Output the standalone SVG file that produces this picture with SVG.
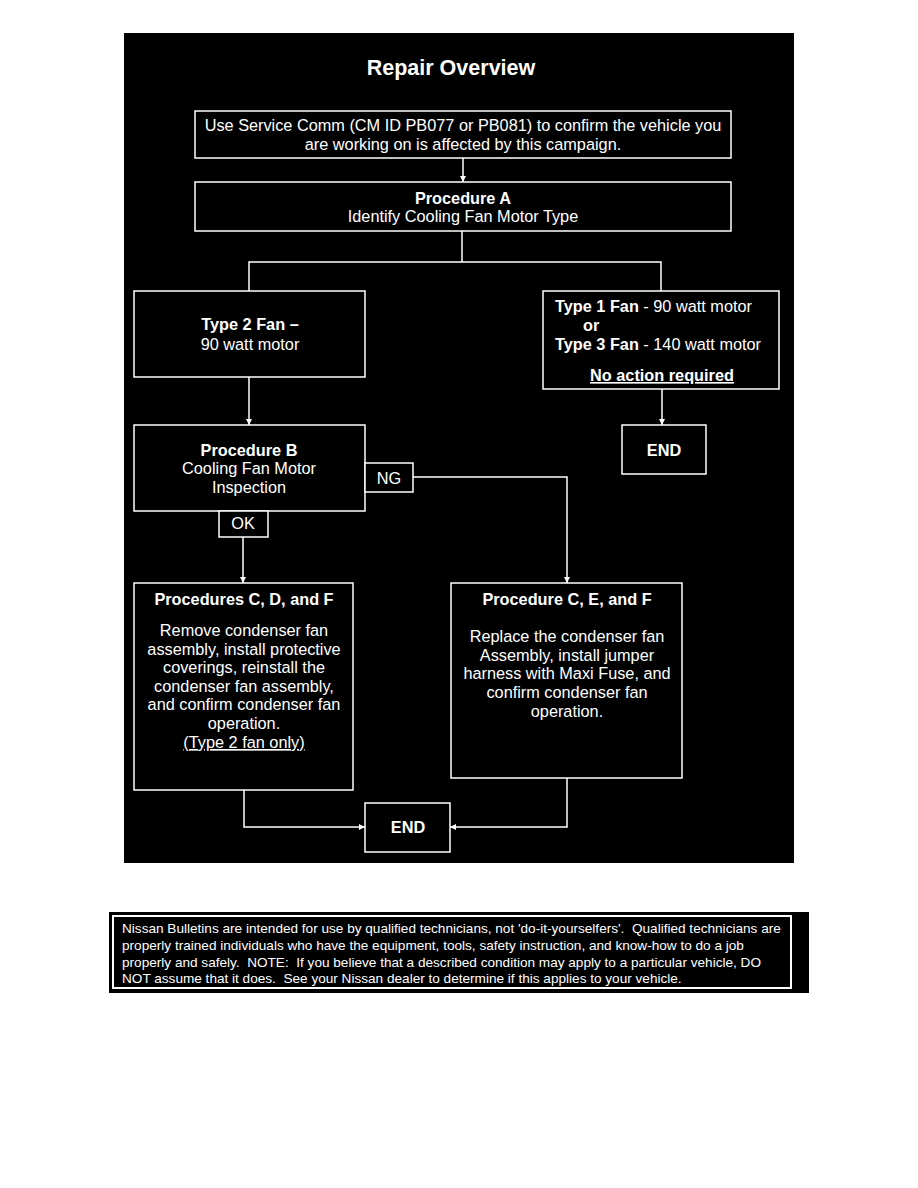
<svg xmlns="http://www.w3.org/2000/svg" width="918" height="1188" viewBox="0 0 918 1188">
<style>
text{font-family:"Liberation Sans",Arial,sans-serif;fill:#fff;font-size:16.3px}
.b{font-weight:bold}
.c{text-anchor:middle}
.box{fill:#000;stroke:#fff;stroke-width:1.5}
.ln{fill:none;stroke:#fff;stroke-width:1.5}
.u{text-decoration:underline}
.ft{font-size:13.6px}
</style>
<defs>
<marker id="ah" viewBox="0 0 10 10" refX="10" refY="5" markerWidth="6" markerHeight="6" markerUnits="userSpaceOnUse" orient="auto">
<path d="M0,0 L10,5 L0,10 z" fill="#fff"/>
</marker>
</defs>
<rect x="0" y="0" width="918" height="1188" fill="#fff"/>
<rect x="124" y="33" width="670" height="830" fill="#000"/>
<text class="b c" x="451" y="75" style="font-size:21.5px">Repair Overview</text>

<g id="connectors">
<line class="ln" x1="463" y1="158" x2="463" y2="182" marker-end="url(#ah)"/>
<polyline class="ln" points="462,231 462,262"/>
<polyline class="ln" points="249,291 249,262 661,262 661,291"/>
<line class="ln" x1="662" y1="389" x2="662" y2="425" marker-end="url(#ah)"/>
<line class="ln" x1="249" y1="377" x2="249" y2="425" marker-end="url(#ah)"/>
<polyline class="ln" points="413,477 567,477 567,583" marker-end="url(#ah)"/>
<line class="ln" x1="243" y1="537" x2="243" y2="583" marker-end="url(#ah)"/>
<polyline class="ln" points="244,790 244,827 365,827" marker-end="url(#ah)"/>
<polyline class="ln" points="567,778 567,827 450,827" marker-end="url(#ah)"/>
</g>

<g id="n1">
<rect class="box" x="195" y="111" width="536" height="47"/>
<text class="c" x="463" y="131">Use Service Comm (CM ID PB077 or PB081) to confirm the vehicle you</text>
<text class="c" x="463" y="150">are working on is affected by this campaign.</text>
</g>
<g id="procA">
<rect class="box" x="195" y="182" width="536" height="49"/>
<text class="b c" x="463" y="204">Procedure A</text>
<text class="c" x="463" y="222">Identify Cooling Fan Motor Type</text>
</g>
<g id="type2">
<rect class="box" x="134" y="291" width="231" height="86"/>
<text class="b c" x="250" y="330">Type 2 Fan –</text>
<text class="c" x="250" y="350">90 watt motor</text>
</g>
<g id="type13">
<rect class="box" x="543" y="291" width="236" height="98"/>
<text x="555" y="312"><tspan class="b">Type 1 Fan</tspan> - 90 watt motor</text>
<text class="b" x="583" y="331">or</text>
<text x="555" y="350"><tspan class="b">Type 3 Fan</tspan> - 140 watt motor</text>
<text class="b c u" x="662" y="381">No action required</text>
</g>
<g id="end1">
<rect class="box" x="622" y="425" width="84" height="49"/>
<text class="b c" x="664" y="456">END</text>
</g>
<g id="procB">
<rect class="box" x="134" y="425" width="231" height="86"/>
<text class="b c" x="249" y="456">Procedure B</text>
<text class="c" x="249" y="474">Cooling Fan Motor</text>
<text class="c" x="249" y="493">Inspection</text>
</g>
<g id="ng">
<rect class="box" x="365" y="463" width="48" height="29"/>
<text class="c" x="389" y="484">NG</text>
</g>
<g id="ok">
<rect class="box" x="219" y="511" width="49" height="26"/>
<text class="c" x="243" y="529">OK</text>
</g>
<g id="procCDF">
<rect class="box" x="134" y="583" width="219" height="207"/>
<text class="b c" x="244" y="605">Procedures C, D, and F</text>
<text class="c" x="244" y="636">Remove condenser fan</text>
<text class="c" x="244" y="655">assembly, install protective</text>
<text class="c" x="244" y="673">coverings, reinstall the</text>
<text class="c" x="244" y="692">condenser fan assembly,</text>
<text class="c" x="244" y="710">and confirm condenser fan</text>
<text class="c" x="244" y="729">operation.</text>
<text class="c u" x="244" y="748">(Type 2 fan only)</text>
</g>
<g id="procCEF">
<rect class="box" x="451" y="583" width="231" height="195"/>
<text class="b c" x="567" y="605">Procedure C, E, and F</text>
<text class="c" x="567" y="642">Replace the condenser fan</text>
<text class="c" x="567" y="661">Assembly, install jumper</text>
<text class="c" x="567" y="679">harness with Maxi Fuse, and</text>
<text class="c" x="567" y="698">confirm condenser fan</text>
<text class="c" x="567" y="717">operation.</text>
</g>
<g id="end2">
<rect class="box" x="365" y="803" width="85" height="49"/>
<text class="b c" x="408" y="833">END</text>
</g>

<g id="footer">
<rect x="109" y="912" width="700" height="81" fill="#000"/>
<rect x="113" y="916" width="678" height="72" fill="none" stroke="#fff" stroke-width="2"/>
<text class="ft" x="122" y="933" xml:space="preserve">Nissan Bulletins are intended for use by qualified technicians, not 'do-it-yourselfers'.  Qualified technicians are</text>
<text class="ft" x="122" y="950">properly trained individuals who have the equipment, tools, safety instruction, and know-how to do a job</text>
<text class="ft" x="122" y="967" xml:space="preserve">properly and safely.  NOTE:  If you believe that a described condition may apply to a particular vehicle, DO</text>
<text class="ft" x="122" y="983" xml:space="preserve">NOT assume that it does.  See your Nissan dealer to determine if this applies to your vehicle.</text>
</g>
</svg>
